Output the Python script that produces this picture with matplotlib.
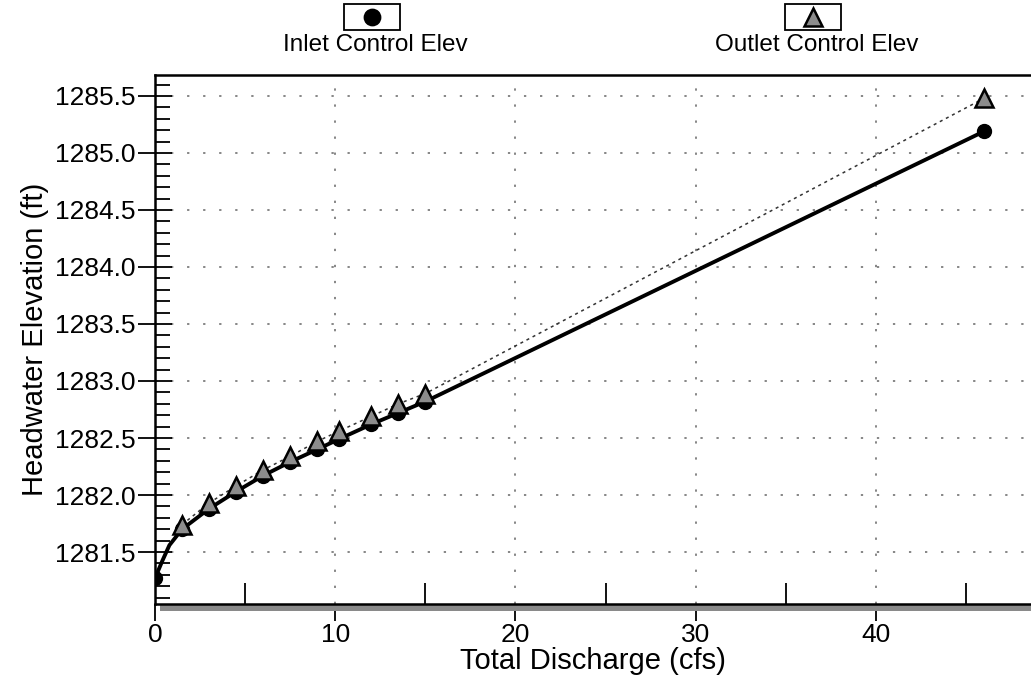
import matplotlib
matplotlib.use("Agg")
import matplotlib.pyplot as plt
from matplotlib.lines import Line2D
from matplotlib.patches import Rectangle
from matplotlib.ticker import MultipleLocator

plt.rcParams['font.family'] = ['Liberation Sans', 'DejaVu Sans']

# ---- data ----
inlet_q = [0.0, 0.4, 0.8, 1.5, 3.0, 4.5, 6.0, 7.5, 9.0, 10.2, 12.0, 13.5, 15.0, 46.0]
inlet_elev = [1281.27, 1281.42, 1281.56, 1281.70, 1281.88, 1282.03, 1282.17, 1282.29,
              1282.40, 1282.49, 1282.62, 1282.72, 1282.82, 1285.19]
inlet_marker_idx = [0, 3, 4, 5, 6, 7, 8, 9, 10, 11, 12, 13]

outlet_q = [1.5, 3.0, 4.5, 6.0, 7.5, 9.0, 10.2, 12.0, 13.5, 15.0, 46.0]
outlet_elev = [1281.74, 1281.93, 1282.08, 1282.22, 1282.34, 1282.47, 1282.56,
               1282.69, 1282.80, 1282.89, 1285.48]

x_ticks = [0, 10, 20, 30, 40]
y_ticks = [1281.5, 1282.0, 1282.5, 1283.0, 1283.5, 1284.0, 1284.5, 1285.0, 1285.5]
series_labels = ["Inlet Control Elev", "Outlet Control Elev"]
x_label = "Total Discharge (cfs)"
y_label = "Headwater Elevation (ft)"

W, H = 1031, 688
fig = plt.figure(figsize=(W / 100, H / 100), dpi=100)
ax = fig.add_axes([155 / W, 1 - 604 / H, 1 - 155 / W, (604 - 75) / H])

ax.set_xlim(0, 48.6)
ax.set_ylim(1281.044, 1285.684)

# grid
grid_kw = dict(color='#666666', lw=1.1, linestyle=(0, (1.5, 9)), zorder=1)
for yt in y_ticks:
    ax.axhline(yt, **grid_kw)
for xt in x_ticks[1:]:
    ax.axvline(xt, **grid_kw)

# curves
ax.plot(outlet_q, outlet_elev, color='#333333', lw=1.1, linestyle=(0, (2, 2.5)), zorder=3)
ax.plot(inlet_q, inlet_elev, color='black', lw=2.8, zorder=4)
ax.plot(inlet_q, inlet_elev, linestyle='none', marker='o', markersize=10,
        markerfacecolor='black', markeredgecolor='black', markevery=inlet_marker_idx, zorder=5)
ax.plot(outlet_q, outlet_elev, linestyle='none', marker='^', markersize=13,
        markerfacecolor='#8c8c8c', markeredgecolor='black', markeredgewidth=1.8, zorder=6)

# ticks
ax.set_xticks(x_ticks)
ax.set_yticks(y_ticks)
ax.set_yticklabels([f"{v:.1f}" for v in y_ticks])
ax.xaxis.set_minor_locator(MultipleLocator(5))
ax.yaxis.set_minor_locator(MultipleLocator(0.1))
ax.tick_params(axis='x', which='major', direction='out', length=12, width=1.3,
               labelsize=19, pad=2)
ax.tick_params(axis='x', which='minor', direction='in', length=15, width=1.3)
ax.tick_params(axis='y', which='major', direction='inout', length=24, width=1.3,
               labelsize=19, pad=2)
ax.tick_params(axis='y', which='minor', direction='in', length=11, width=1.3)
ax.tick_params(top=False, right=False, which='both')

ax.spines['right'].set_visible(False)
for s in ['left', 'top', 'bottom']:
    ax.spines[s].set_linewidth(1.8)

ax.set_xlabel(x_label, fontsize=21, labelpad=0)
ax.set_ylabel(y_label, fontsize=21, labelpad=4)

# gray band along the bottom axis
ax.add_patch(Rectangle((0.006, -0.013), 0.994, 0.011, transform=ax.transAxes,
                       facecolor='#8a8a8a', edgecolor='none', clip_on=False, zorder=2))

# legend (marker in a box, label below)
leg = [(372, 'o', 'black', series_labels[0], 375),
       (813, '^', '#8c8c8c', series_labels[1], 817)]
for cx, mk, fc, lab, lx in leg:
    fig.add_artist(Rectangle(((cx - 28) / W, 1 - 30 / H), 56 / W, 26 / H,
                             transform=fig.transFigure, facecolor='white',
                             edgecolor='black', lw=1.3))
    fig.add_artist(Line2D([cx / W], [1 - 17 / H], marker=mk, markersize=11 if mk == 'o' else 13,
                          markerfacecolor=fc, markeredgecolor='black', markeredgewidth=1.8,
                          linestyle='none', transform=fig.transFigure))
    fig.text(lx / W, 1 - 51 / H, lab, ha='center', va='baseline', fontsize=17.5)

fig.savefig("out.png", dpi=100)
